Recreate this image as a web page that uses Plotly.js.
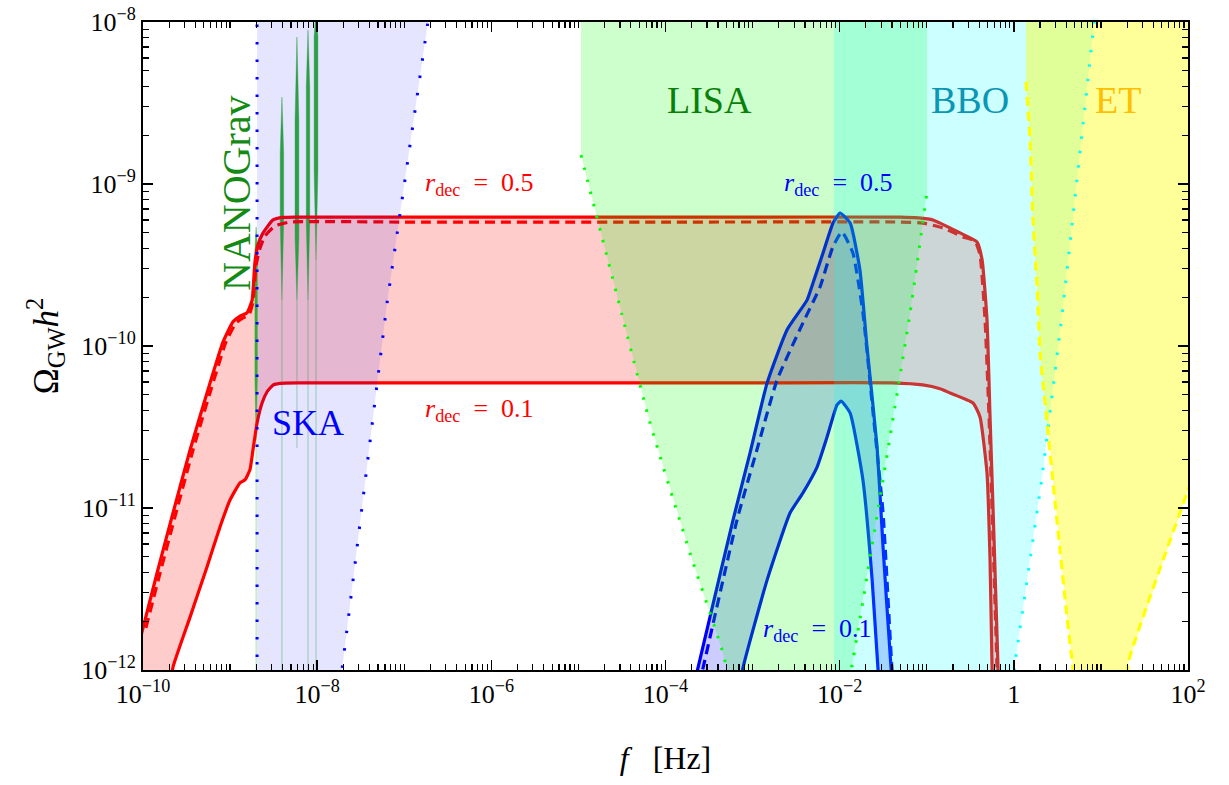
<!DOCTYPE html>
<html><head><meta charset="utf-8">
<script src="https://cdn.plot.ly/plotly-3.0.1.min.js"></script>
<style>html,body{margin:0;padding:0;background:#fff}#chart{width:1229px;height:785px}</style>
</head><body><div id="chart"></div>
<script>
// ---------- spectra (frequency in Hz, Omega_GW h^2) ----------
var redUpperF = [7.67e-11,1.00e-10,1.45e-10,2.21e-10,3.47e-10,5.43e-10,8.30e-10,1.08e-9,1.30e-9,1.56e-9,1.79e-9,1.93e-9,2.09e-9,2.39e-9,3.11e-9,4.06e-9,6.0e-9,1.0e-7,1.77e-5,1.0e-3,0.0493,0.08,0.118,0.241,0.378,0.432,0.492,0.533,0.593,0.658,0.676];
var redUpperO = [1.06e-12,1.82e-12,3.97e-12,9.31e-12,2.28e-11,5.13e-11,1.06e-10,1.41e-10,1.53e-10,1.60e-10,1.92e-10,3.30e-10,4.20e-10,4.99e-10,6.00e-10,6.22e-10,6.25e-10,6.25e-10,6.25e-10,6.25e-10,6.25e-10,6.18e-10,6.00e-10,4.99e-10,4.39e-10,3.40e-10,1.45e-10,3.65e-11,6.34e-12,1.04e-12,6.53e-13];
var redLowerF = [2.04e-10,2.21e-10,3.47e-10,5.43e-10,7.66e-10,9.98e-10,1.30e-9,1.48e-9,1.69e-9,1.83e-9,2.04e-9,2.33e-9,2.65e-9,3.11e-9,3.74e-9,6.0e-9,1.0e-7,1.0e-5,1.0e-3,0.04,0.09,0.142,0.185,0.340,0.409,0.492,0.533,0.562,0.577];
var redLowerO = [7.53e-13,1.04e-12,2.12e-12,4.33e-12,7.64e-12,1.12e-11,1.43e-11,1.49e-11,1.72e-11,2.28e-11,3.35e-11,4.45e-11,5.20e-11,5.74e-11,5.88e-11,5.92e-11,5.92e-11,5.92e-11,5.92e-11,5.92e-11,5.75e-11,5.45e-11,5.13e-11,4.45e-11,3.65e-11,1.64e-11,4.78e-12,1.04e-12,6.53e-13];
var redDashF = [1.08e-10,1.57e-10,2.39e-10,3.75e-10,5.87e-10,8.97e-10,1.17e-9,1.41e-9,1.65e-9,1.83e-9,1.99e-9,2.21e-9,2.52e-9,3.28e-9,4.88e-9,1.0e-7,1.0e-4,0.0493,0.0906,0.154,0.261,0.358,0.409,0.467,0.519,0.577,0.641];
var redDashO = [1.82e-12,3.97e-12,9.31e-12,2.28e-11,5.13e-11,1.06e-10,1.39e-10,1.49e-10,1.55e-10,1.87e-10,3.16e-10,4.03e-10,4.78e-10,5.51e-10,5.82e-10,5.82e-10,5.82e-10,5.82e-10,5.74e-10,5.35e-10,4.71e-10,4.45e-10,3.65e-10,1.45e-10,3.65e-11,6.34e-12,1.04e-12];

var blueUpperF = [2.12e-4,2.36e-4,3.24e-4,5.96e-4,9.35e-4,1.47e-3,2.49e-3,4.22e-3,4.94e-3,6.44e-3,8.39e-3,1.01e-2,1.32e-2,1.71e-2,2.06e-2,2.69e-2,3.15e-2,3.89e-2,4.10e-2];
var blueUpperO = [8.07e-13,1.03e-12,2.12e-12,8.43e-12,2.19e-11,5.92e-11,1.26e-10,1.92e-10,2.45e-10,3.75e-10,5.74e-10,6.62e-10,5.74e-10,2.94e-10,9.86e-11,2.38e-11,5.74e-12,1.03e-12,7.53e-13];
var blueDashF = [2.43e-4,2.70e-4,6.62e-4,1.12e-3,1.91e-3,3.79e-3,5.94e-3,8.34e-3,1.06e-2,1.42e-2,1.85e-2,2.42e-2,3.15e-2,3.98e-2,4.20e-2];
var blueDashO = [8.07e-13,1.03e-12,8.43e-12,2.28e-11,6.17e-11,1.39e-10,2.31e-10,4.08e-10,5.06e-10,3.75e-10,1.60e-10,3.85e-11,9.31e-12,1.03e-12,7.53e-13];
var blueLowerF = [7.18e-4,7.76e-4,1.47e-3,2.69e-3,3.79e-3,5.50e-3,7.16e-3,9.33e-3,1.04e-2,1.32e-2,1.85e-2,2.36e-2,2.75e-2,2.90e-2];
var blueLowerO = [7.53e-13,1.03e-12,3.60e-12,9.31e-12,1.24e-11,1.79e-11,2.74e-11,4.33e-11,4.57e-11,3.85e-11,1.49e-11,3.60e-12,1.03e-12,7.53e-13];

// ---------- detector sensitivity curves ----------
var skaFmin = 2.04e-9;
var skaF = [1.64e-8,1.93e-8,3.54e-8,6.34e-8,1.87e-7,2.08e-7];
var skaO = [4.91e-13,1.0e-12,1.49e-11,1.84e-10,1.0e-8,1.37e-8];

var lisaF = [1.07e-5,3.17e-5,6.64e-5,1.91e-4,4.46e-4,6.28e-4,3.0e-3,1.15e-2,1.42e-2,6.43e-2,0.1007];
var lisaO = [1.51e-9,1.55e-10,3.35e-11,5.27e-12,1.33e-12,6.53e-13,1.0e-13,6.53e-13,1.15e-12,1.60e-10,8.93e-10];

var bboFmin = 8.61e-3;
var bboF = [0.953,1.03,2.11,3.67,7.91,8.55];
var bboO = [6.53e-13,1.10e-12,1.55e-11,1.74e-10,7.53e-9,1.10e-8];

var etF = [1.38,1.53,1.66,1.85,2.0,2.28,2.82,3.39,4.08,4.79,5.18,10.0,18.9,20.5,97.5,137];
var etO = [4.27e-9,1.95e-9,6.0e-10,2.31e-10,9.06e-11,4.45e-11,1.43e-11,5.51e-12,2.12e-12,1.0e-12,6.53e-13,1.0e-13,6.53e-13,1.10e-12,1.24e-11,2.09e-11];

// NANOGrav posterior spikes
var ngF     = [1.99e-9,3.94e-9,5.86e-9,7.85e-9,9.70e-9];
var ngTop   = [5.43e-10,3.44e-9,8.07e-9,8.93e-9,1.2e-8];
var ngWideHi= [3.92e-10,1.55e-9,2.48e-9,3.97e-9,8.07e-9];
var ngWideLo= [6.17e-11,6.00e-10,4.71e-10,6.00e-10,1.22e-9];
var ngBot   = [2.63e-11,1.92e-10,1.92e-10,1.92e-10,3.39e-10];
var ngEnd   = [1.0e-12,1.0e-12,2.35e-11,1.0e-12,1.0e-12];
var ngHalfWidthDex = [0.014,0.02,0.022,0.02,0.022];

// ---------- axis ticks ----------
var xTickVals = [1e-10,1e-8,1e-6,1e-4,1e-2,1,1e2];
var xTickText = ['10<sup>−10</sup>','10<sup>−8</sup>','10<sup>−6</sup>','10<sup>−4</sup>','10<sup>−2</sup>','1','10<sup>2</sup>'];
var yTickVals = [1e-12,1e-11,1e-10,1e-9,1e-8];
var yTickText = ['10<sup>−12</sup>','10<sup>−11</sup>','10<sup>−10</sup>','10<sup>−9</sup>','10<sup>−8</sup>'];

var TOP = 1e-7, BOTTOM = 1e-13;
function minorLog(k0, k1, skipOdd) {
  var v = [];
  for (var k = k0; k <= k1; k++) {
    if (skipOdd && (k % 2 !== 0)) v.push(Math.pow(10, k));
    for (var m = 2; m <= 9; m++) v.push(m * Math.pow(10, k));
  }
  return v;
}
function rev(a){ return a.slice().reverse(); }

var traces = [];
var FONT = 'Liberation Serif, DejaVu Serif, serif';
var SM = 0.45;

// band fills
traces.push({x: redUpperF.concat(rev(redLowerF)), y: redUpperO.concat(rev(redLowerO)), mode:'lines', fill:'toself', fillcolor:'rgba(255,0,0,0.2)', line:{width:0, shape:'spline', smoothing:SM}, hoverinfo:'skip'});
traces.push({x: blueUpperF.concat(rev(blueLowerF)), y: blueUpperO.concat(rev(blueLowerO)), mode:'lines', fill:'toself', fillcolor:'rgba(0,0,255,0.2)', line:{width:0, shape:'spline', smoothing:SM}, hoverinfo:'skip'});

// NANOGrav
for (var i = 0; i < ngF.length; i++) {
  var w = Math.pow(10, ngHalfWidthDex[i]);
  traces.push({x:[ngF[i], ngF[i]], y:[ngBot[i], ngEnd[i]], mode:'lines', line:{color:'rgba(0,170,0,0.35)', width:1}, hoverinfo:'skip'});
  traces.push({x:[ngF[i], ngF[i]*w, ngF[i]*w, ngF[i], ngF[i]/w, ngF[i]/w, ngF[i]],
               y:[ngTop[i], ngWideHi[i], ngWideLo[i], ngBot[i], ngWideLo[i], ngWideHi[i], ngTop[i]],
    mode:'lines', fill:'toself', fillcolor:'rgba(40,175,40,0.95)', line:{width:0.6, color:'rgba(40,175,40,0.6)'}, hoverinfo:'skip'});
}

// curves
function curve(xs, ys, color, dash) {
  return {x: xs, y: ys, mode:'lines', line:{color:color, width:3.2, dash:dash||'solid', shape:'spline', smoothing:SM}, hoverinfo:'skip'};
}
traces.push(curve(redUpperF, redUpperO, '#ff0000'));
traces.push(curve(redLowerF, redLowerO, '#ff0000'));
traces.push(curve(redDashF, redDashO, '#ff0000', '10px,6px'));
traces.push(curve(blueUpperF, blueUpperO, '#0000ff'));
traces.push(curve(blueLowerF, blueLowerO, '#0000ff'));
traces.push(curve(blueDashF, blueDashO, '#0000ff', '10px,6px'));

// detector regions (drawn over the spectra)
traces.push({x:[skaFmin, skaFmin].concat(skaF).concat([skaF[skaF.length-1], skaFmin]), y:[TOP, BOTTOM].concat(skaO).concat([TOP, TOP]),
  mode:'lines', fill:'toself', fillcolor:'rgba(0,0,255,0.1)', line:{width:0}, hoverinfo:'skip'});
traces.push({x:[lisaF[0]].concat(lisaF).concat([lisaF[lisaF.length-1], lisaF[0]]), y:[TOP].concat(lisaO).concat([TOP, TOP]),
  mode:'lines', fill:'toself', fillcolor:'rgba(0,255,0,0.2)', line:{width:0}, hoverinfo:'skip'});
traces.push({x:[bboFmin, bboFmin].concat(bboF).concat([bboF[bboF.length-1], bboFmin]), y:[TOP, BOTTOM].concat(bboO).concat([TOP, TOP]),
  mode:'lines', fill:'toself', fillcolor:'rgba(0,255,255,0.2)', line:{width:0}, hoverinfo:'skip'});
traces.push({x:[etF[0]].concat(etF).concat([etF[etF.length-1], etF[0]]), y:[TOP].concat(etO).concat([TOP, TOP]),
  mode:'lines', fill:'toself', fillcolor:'rgba(255,255,0,0.4)', line:{width:0}, hoverinfo:'skip'});

// detector boundaries
traces.push({x:[skaFmin, skaFmin], y:[BOTTOM, TOP], mode:'lines', line:{color:'#0000ff', width:3, dash:'2.5px,15px'}, hoverinfo:'skip'});
traces.push({x: skaF, y: skaO, mode:'lines', line:{color:'#0000ff', width:3, dash:'2.5px,15px'}, hoverinfo:'skip'});
traces.push({x: lisaF, y: lisaO, mode:'lines', line:{color:'#00ff00', width:3, dash:'2.5px,10px', shape:'spline', smoothing:0.5}, hoverinfo:'skip'});
traces.push({x: bboF, y: bboO, mode:'lines', line:{color:'#00ffff', width:3, dash:'2.5px,12px'}, hoverinfo:'skip'});
traces.push({x: etF, y: etO, mode:'lines', line:{color:'#ffff00', width:3.2, dash:'9px,6px', shape:'spline', smoothing:0.5}, hoverinfo:'skip'});

function px2paperX(p){ return (p-143)/1045; }
function px2paperY(p){ return (670-p)/648; }
function ann(text, px, py, size, color, angle){
  return {text:text, xref:'paper', yref:'paper', x:px2paperX(px), y:px2paperY(py), xanchor:'center', yanchor:'middle',
    showarrow:false, textangle: angle||0, font:{family:FONT, size:size, color:color}};
}
var rdec = '<i>r</i><sub>dec</sub>&nbsp;&nbsp;=&nbsp;&nbsp;';
var annotations = [
  ann(rdec+'0.5', 479, 184, 26, '#ff0000'),
  ann(rdec+'0.1', 479, 410, 26, '#ff0000'),
  ann(rdec+'0.5', 838, 184, 26, '#0000ff'),
  ann(rdec+'0.1', 817, 630, 26, '#0000ff'),
  ann('LISA', 709, 100, 38, '#0b7f0b'),
  ann('BBO', 970, 100, 38, '#0a96b4'),
  ann('ET', 1118, 100, 38, '#ffbf00'),
  ann('SKA', 308, 423, 36, '#0000ff'),
  ann('NANOGrav', 237, 193, 40, '#138a13', -90)
];

var layout = {
  width:1229, height:785,
  margin:{l:143, r:41, t:22, b:115, pad:0},
  paper_bgcolor:'#ffffff', plot_bgcolor:'#ffffff',
  showlegend:false,
  font:{family:FONT, size:26, color:'#000'},
  xaxis:{type:'log', range:[-10, 2], showgrid:false, zeroline:false,
    showline:true, linecolor:'#000', linewidth:2, mirror:'allticks',
    ticks:'inside', ticklen:10, tickwidth:1.5, tickcolor:'#000',
    tickvals:xTickVals, ticktext:xTickText, tickfont:{family:FONT, size:26, color:'#000'},
    minor:{tickvals:minorLog(-10, 1, true), ticks:'inside', ticklen:6, tickwidth:1.2, tickcolor:'#000', showgrid:false},
    title:{text:'<i>f</i>   [Hz]', font:{family:FONT, size:32, color:'#000'}, standoff:38},
    automargin:false},
  yaxis:{type:'log', range:[-12, -8], showgrid:false, zeroline:false,
    showline:true, linecolor:'#000', linewidth:2, mirror:'allticks',
    ticks:'inside', ticklen:10, tickwidth:1.5, tickcolor:'#000',
    tickvals:yTickVals, ticktext:yTickText, tickfont:{family:FONT, size:26, color:'#000'},
    minor:{tickvals:minorLog(-12, -9, false), ticks:'inside', ticklen:6, tickwidth:1.2, tickcolor:'#000', showgrid:false},
    title:{text:'Ω<sub>GW</sub><i>h</i><sup>2</sup>', font:{family:FONT, size:35, color:'#000'}, standoff:12},
    automargin:false},
  annotations: annotations
};

Plotly.newPlot('chart', traces, layout, {staticPlot:true, displayModeBar:false});
</script></body></html>
